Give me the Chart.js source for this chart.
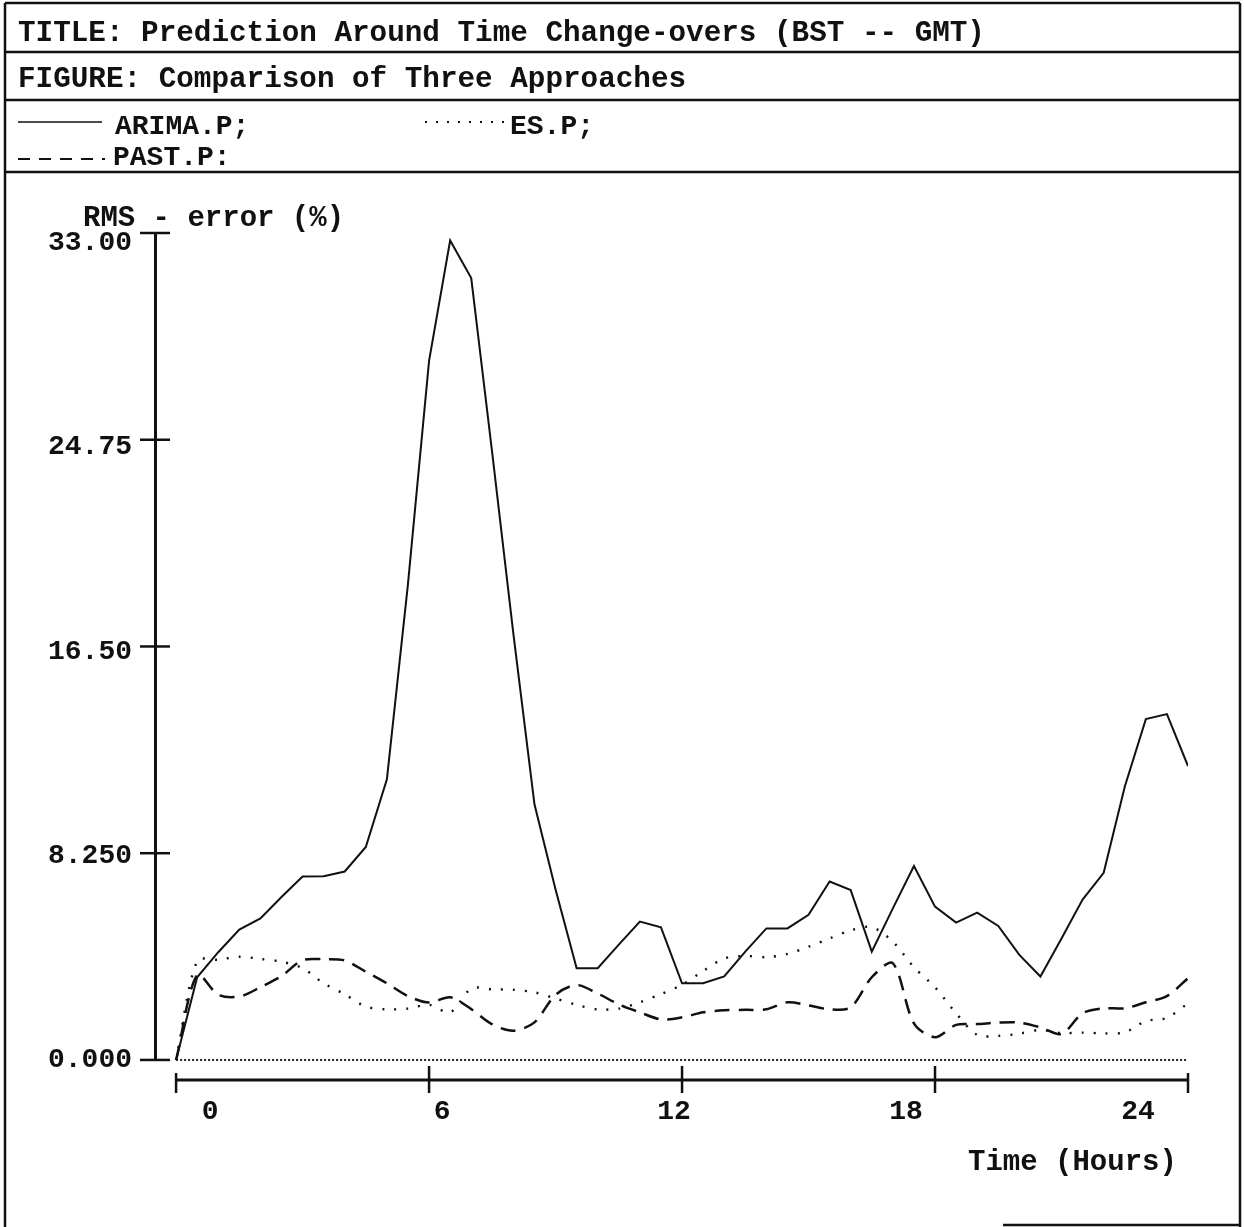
<!DOCTYPE html>
<html><head><meta charset="utf-8">
<script src="https://cdn.jsdelivr.net/npm/chart.js@4.4.0/dist/chart.umd.min.js"></script>
<style>html,body{margin:0;padding:0;background:#fff;}canvas{display:block;}</style>
</head><body>
<canvas id="c" width="1245" height="1227"></canvas>
<script>
// ---- data ----
const hours = [0,0.5,1,1.5,2,2.5,3,3.5,4,4.5,5,5.5,6,6.5,7,7.5,8,8.5,9,9.5,10,10.5,11,11.5,12,12.5,13,13.5,14,14.5,15,15.5,16,16.5,17,17.5,18,18.5,19,19.5,20,20.5,21,21.5,22,22.5,23,23.5,24];
const arimaP = [0,3.3,4.3,5.2,5.65,6.5,7.32,7.33,7.52,8.5,11.2,19.0,27.9,32.7,31.2,24.2,17.0,10.2,6.8,3.66,3.66,4.6,5.52,5.29,3.06,3.06,3.33,4.32,5.25,5.25,5.79,7.12,6.78,4.32,6.05,7.74,6.12,5.48,5.88,5.35,4.19,3.33,4.85,6.4,7.47,10.9,13.6,13.8,11.73];
const esP = [0,3.95,4.0,4.12,4.03,3.92,3.66,3.06,2.62,2.13,2.02,2.05,2.2,1.9,2.85,2.82,2.8,2.7,2.45,2.2,2.02,2.05,2.3,2.63,3.0,3.55,4.05,4.15,4.1,4.23,4.52,4.85,5.17,5.3,4.72,3.7,2.9,1.86,1.0,0.96,1.05,1.2,1.07,1.09,1.06,1.1,1.55,1.68,2.26];
const pastP = [0,3.4,2.6,2.53,2.9,3.35,3.98,4.02,3.97,3.52,3.06,2.55,2.29,2.5,2.03,1.42,1.17,1.5,2.6,2.99,2.65,2.22,1.9,1.62,1.7,1.9,1.98,2.0,2.02,2.3,2.18,2.02,2.1,3.3,3.86,1.46,0.91,1.40,1.43,1.49,1.49,1.3,1.04,1.86,2.06,2.06,2.3,2.55,3.26];
const zeroLineHours = [0,24];
const zeroLineValues = [0,0];
const yTickValues = [0,8.25,16.5,24.75,33];
const yTickLabels = ['0.000','8.250','16.50','24.75','33.00'];
const xTickValues = [0,6,12,18,24];
const xTickLabels = ['0','6','12','18','24'];
const seriesNames = ['ARIMA.P;','ES.P;','PAST.P:'];
const titleText = 'TITLE: Prediction Around Time Change-overs (BST -- GMT)';
const figureText = 'FIGURE: Comparison of Three Approaches';
const yAxisTitle = 'RMS - error (%)';
const xAxisTitle = 'Time (Hours)';

const FONT = '"Liberation Mono","Courier New",monospace';
const INK = '#111';
const pts = (xs, ys) => xs.map((x, i) => ({x, y: ys[i]}));

function seg(ctx, x1, y1, x2, y2) { ctx.beginPath(); ctx.moveTo(x1, y1); ctx.lineTo(x2, y2); ctx.stroke(); }

const framePlugin = {
  id: 'frame',
  beforeDraw(chart) {
    const ctx = chart.ctx;
    ctx.save(); ctx.fillStyle = '#fff'; ctx.fillRect(0, 0, chart.width, chart.height); ctx.restore();
  },
  afterDraw(chart) {
    const ctx = chart.ctx;
    const xs = chart.scales.x, ys = chart.scales.y;
    ctx.save();
    ctx.strokeStyle = INK; ctx.fillStyle = INK;
    // header boxes
    ctx.lineWidth = 2.5;
    seg(ctx, 5, 3, 1240, 3);
    seg(ctx, 5, 3, 5, 1227);
    seg(ctx, 1240, 3, 1240, 1227);
    seg(ctx, 5, 52, 1240, 52);
    seg(ctx, 5, 100, 1240, 100);
    seg(ctx, 5, 172, 1240, 172);
    seg(ctx, 1003, 1225, 1240, 1225);
    // header text
    ctx.textBaseline = 'middle'; ctx.textAlign = 'left';
    ctx.font = 'bold 29.3px ' + FONT;
    ctx.fillText(titleText, 18, 34);
    ctx.fillText(figureText, 18, 80);
    ctx.font = 'bold 28px ' + FONT;
    ctx.fillText(seriesNames[0], 115, 127);
    ctx.fillText(seriesNames[1], 510, 127);
    ctx.fillText(seriesNames[2], 113, 158);
    // legend samples
    ctx.lineWidth = 1.5; ctx.setLineDash([]);
    seg(ctx, 18, 122, 102, 122);
    ctx.lineWidth = 2.2; ctx.setLineDash([2, 9]);
    seg(ctx, 425, 122, 506, 122);
    ctx.lineWidth = 2; ctx.setLineDash([12, 9]);
    seg(ctx, 18, 159, 105, 159);
    ctx.setLineDash([]);
    // y axis
    const xl = chart.chartArea.left + 0.5;
    const yTop = ys.getPixelForValue(33), yZero = ys.getPixelForValue(0);
    ctx.lineWidth = 3;
    seg(ctx, xl, yTop, xl, yZero);
    ctx.lineWidth = 2.5;
    yTickValues.forEach(v => { const p = ys.getPixelForValue(v); seg(ctx, 140, p, 170, p); });
    // y tick labels (slightly below their ticks near the top, as in the reference)
    ctx.font = 'bold 28px ' + FONT; ctx.textAlign = 'right';
    yTickValues.forEach((v, i) => {
      const p = ys.getPixelForValue(v) + 10 * v / 33;
      ctx.fillText(yTickLabels[i], 132, p);
    });
    // x axis
    const xa = chart.chartArea.bottom;
    const x0 = xs.getPixelForValue(0), x24 = xs.getPixelForValue(24);
    ctx.lineWidth = 3;
    seg(ctx, x0, xa, x24, xa);
    ctx.lineWidth = 2.5;
    xTickValues.forEach((v, i) => {
      const p = xs.getPixelForValue(v);
      const end = (i === 0 || i === xTickValues.length - 1);
      seg(ctx, p, end ? xa - 7 : xa - 14, p, xa + 13);
    });
    // x tick labels (placed as in the reference: shifted off the ticks)
    ctx.font = 'bold 28px ' + FONT; ctx.textAlign = 'center';
    xTickValues.forEach((v, i) => {
      const p = xs.getPixelForValue(v) + 34 - 3.5 * v;
      ctx.fillText(xTickLabels[i], p, xa + 32);
    });
    // axis titles
    ctx.font = 'bold 29px ' + FONT; ctx.textAlign = 'left';
    ctx.fillText(yAxisTitle, 83, 219);
    ctx.fillText(xAxisTitle, 968, 1163);
    ctx.restore();
  }
};

new Chart(document.getElementById('c'), {
  type: 'line',
  data: {
    datasets: [
      { label: seriesNames[0], data: pts(hours, arimaP), borderColor: INK, borderWidth: 2, pointRadius: 0, tension: 0 },
      { label: seriesNames[1], data: pts(hours, esP), borderColor: INK, borderWidth: 2.4, borderDash: [2, 10], pointRadius: 0, tension: 0.3 },
      { label: seriesNames[2], data: pts(hours, pastP), borderColor: INK, borderWidth: 2.5, borderDash: [15, 9], pointRadius: 0, tension: 0.3 },
      { label: 'zero', data: pts(zeroLineHours, zeroLineValues), borderColor: '#222', borderWidth: 2, borderDash: [2, 2], pointRadius: 0 }
    ]
  },
  options: {
    responsive: false,
    animation: false,
    events: [],
    layout: { padding: { top: 233, right: 57, left: 0, bottom: 0 } },
    plugins: { legend: { display: false }, tooltip: { enabled: false }, title: { display: false } },
    scales: {
      x: {
        type: 'linear', min: -0.5, max: 24,
        grid: { display: false, drawTicks: false },
        border: { display: false },
        ticks: { display: false },
        afterFit(s) { s.height = 147; }
      },
      y: {
        type: 'linear', min: -0.8, max: 33,
        grid: { display: false, drawTicks: false },
        border: { display: false },
        afterBuildTicks(s) { s.ticks = yTickValues.map(v => ({ value: v })); },
        ticks: { display: false },
        afterFit(s) { s.width = 155; }
      }
    }
  },
  plugins: [framePlugin]
});
</script>
</body></html>
